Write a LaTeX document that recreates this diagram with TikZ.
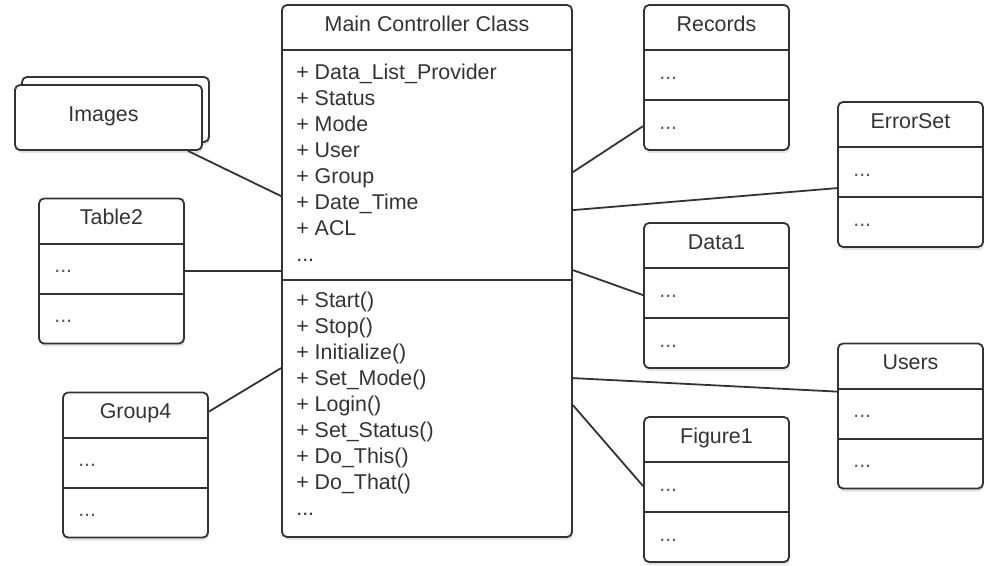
\documentclass[tikz,border=0pt]{standalone}
\usepackage{fontspec}
\setmainfont{Liberation Sans}
\usetikzlibrary{calc,shadows}
\definecolor{ink}{RGB}{51, 51, 51}
\definecolor{dotgray}{RGB}{90, 90, 90}
\tikzstyle{classbox} = [rectangle, draw=ink, line width=1.8pt, fill=white,
  rounded corners=5pt, minimum width=145pt, minimum height=145pt, inner sep=0pt,
  drop shadow={opacity=0.22, shadow xshift=1pt, shadow yshift=-3pt}]
\tikzstyle{stackbox} = [classbox, minimum width=187pt, minimum height=65pt]
\tikzstyle{divider} = [draw=ink, line width=1.8pt]
\tikzstyle{title} = [text=ink, font=\fontsize{21.4}{26}\selectfont,
  inner sep=0pt, anchor=base]
\tikzstyle{member} = [text=ink, font=\fontsize{21.4}{26}\selectfont,
  inner sep=0pt, anchor=north west, align=left]
\tikzstyle{entry} = [text=dotgray, font=\fontsize{21.4}{26}\selectfont,
  inner sep=0pt, anchor=base west]
\tikzstyle{line} = [draw=ink, line width=1.8pt]

\begin{document}
\begin{tikzpicture}[x=1pt, y=-1pt]

  \useasboundingbox (0,0) rectangle (990,565);

  %%%%%%%%%%%%%%%%%%%%%%%%%%%%%%%%%%%%%%%%%%%%%%%%%%%%%%%%%%%%%%
  %                    MAIN CONTROLLER CLASS                   %
  %%%%%%%%%%%%%%%%%%%%%%%%%%%%%%%%%%%%%%%%%%%%%%%%%%%%%%%%%%%%%%

  \node [classbox, minimum width=290pt, minimum height=532pt] (main) at (427,271) {};
  \node [title] (main-title) at ($(main.north)+(0,27)$) {Main Controller Class};
  \draw [divider] ($(main.north west)+(0,46)$) -- ($(main.north east)+(0,46)$)
                  ($(main.north west)+(0,276)$) -- ($(main.north east)+(0,276)$);
  \node [member] (main-attributes) at ($(main.north west)+(15,59.5)$) {
    + Data\_List\_Provider\\
    + Status\\
    + Mode\\
    + User\\
    + Group\\
    + Date\_Time\\
    + ACL\\
    ...
  };
  \node [member] (main-methods) at ($(main.north west)+(15,287.5)$) {
    + Start()\\
    + Stop()\\
    + Initialize()\\
    + Set\_Mode()\\
    + Login()\\
    + Set\_Status()\\
    + Do\_This()\\
    + Do\_That()\\
    ...
  };

  %%%%%%%%%%%%%%%%%%%%%%%%%%%%%%%%%%%%%%%%%%%%%%%%%%%%%%%%%%%%%%
  %                    LEFT SIDE                               %
  %%%%%%%%%%%%%%%%%%%%%%%%%%%%%%%%%%%%%%%%%%%%%%%%%%%%%%%%%%%%%%

  \node [stackbox] (images-back) at (115.5,109.5) {};
  \node [stackbox] (images) at (108.5,117.5) {};
  \node [title] (images-title) at ($(images.north)+(-5,37)$) {Images};

  \node [classbox] (table2) at (111.5,271) {};
  \node [title] (table2-title) at ($(table2.north)+(0,27)$) {Table2};
  \draw [divider] ($(table2.north west)+(0,46)$) -- ($(table2.north east)+(0,46)$)
                  ($(table2.north west)+(0,96)$) -- ($(table2.north east)+(0,96)$);
  \node [entry] (table2-a) at ($(table2.north west)+(16,75)$) {...};
  \node [entry] (table2-b) at ($(table2.north west)+(16,125)$) {...};

  \node [classbox] (group4) at (135.5,465) {};
  \node [title] (group4-title) at ($(group4.north)+(0,27)$) {Group4};
  \draw [divider] ($(group4.north west)+(0,46)$) -- ($(group4.north east)+(0,46)$)
                  ($(group4.north west)+(0,96)$) -- ($(group4.north east)+(0,96)$);
  \node [entry] (group4-a) at ($(group4.north west)+(16,75)$) {...};
  \node [entry] (group4-b) at ($(group4.north west)+(16,125)$) {...};

  %%%%%%%%%%%%%%%%%%%%%%%%%%%%%%%%%%%%%%%%%%%%%%%%%%%%%%%%%%%%%%
  %                    RIGHT SIDE                              %
  %%%%%%%%%%%%%%%%%%%%%%%%%%%%%%%%%%%%%%%%%%%%%%%%%%%%%%%%%%%%%%

  \node [classbox] (records) at (716.5,77.5) {};
  \node [title] (records-title) at ($(records.north)+(0,27)$) {Records};
  \draw [divider] ($(records.north west)+(0,46)$) -- ($(records.north east)+(0,46)$)
                  ($(records.north west)+(0,96)$) -- ($(records.north east)+(0,96)$);
  \node [entry] (records-a) at ($(records.north west)+(16,75)$) {...};
  \node [entry] (records-b) at ($(records.north west)+(16,125)$) {...};

  \node [classbox] (errorset) at (910.5,174.5) {};
  \node [title] (errorset-title) at ($(errorset.north)+(0,27)$) {ErrorSet};
  \draw [divider] ($(errorset.north west)+(0,46)$) -- ($(errorset.north east)+(0,46)$)
                  ($(errorset.north west)+(0,96)$) -- ($(errorset.north east)+(0,96)$);
  \node [entry] (errorset-a) at ($(errorset.north west)+(16,75)$) {...};
  \node [entry] (errorset-b) at ($(errorset.north west)+(16,125)$) {...};

  \node [classbox] (data1) at (716.5,295.5) {};
  \node [title] (data1-title) at ($(data1.north)+(0,27)$) {Data1};
  \draw [divider] ($(data1.north west)+(0,46)$) -- ($(data1.north east)+(0,46)$)
                  ($(data1.north west)+(0,96)$) -- ($(data1.north east)+(0,96)$);
  \node [entry] (data1-a) at ($(data1.north west)+(16,75)$) {...};
  \node [entry] (data1-b) at ($(data1.north west)+(16,125)$) {...};

  \node [classbox] (users) at (910.5,416) {};
  \node [title] (users-title) at ($(users.north)+(0,27)$) {Users};
  \draw [divider] ($(users.north west)+(0,46)$) -- ($(users.north east)+(0,46)$)
                  ($(users.north west)+(0,96)$) -- ($(users.north east)+(0,96)$);
  \node [entry] (users-a) at ($(users.north west)+(16,75)$) {...};
  \node [entry] (users-b) at ($(users.north west)+(16,125)$) {...};

  \node [classbox] (figure1) at (716.5,489.5) {};
  \node [title] (figure1-title) at ($(figure1.north)+(0,27)$) {Figure1};
  \draw [divider] ($(figure1.north west)+(0,46)$) -- ($(figure1.north east)+(0,46)$)
                  ($(figure1.north west)+(0,96)$) -- ($(figure1.north east)+(0,96)$);
  \node [entry] (figure1-a) at ($(figure1.north west)+(16,75)$) {...};
  \node [entry] (figure1-b) at ($(figure1.north west)+(16,125)$) {...};

  %%%%%%%%%%%%%%%%%%%%%%%%%%%%%%%%%%%%%%%%%%%%%%%%%%%%%%%%%%%%%%
  %                    ASSOCIATIONS                            %
  %%%%%%%%%%%%%%%%%%%%%%%%%%%%%%%%%%%%%%%%%%%%%%%%%%%%%%%%%%%%%%

  \draw [line] ($(images.south east)+(-15,0)$) -- ($(main.north west)+(0,192)$);
  \draw [line] (table2.east) -- (main.west |- table2.east);
  \draw [line] ($(group4.north east)+(0,20)$) -- ($(main.north west)+(0,364)$);
  \draw [line] ($(main.north east)+(0,168)$) -- ($(records.north west)+(0,122)$);
  \draw [line] ($(main.north east)+(0,206)$) -- ($(errorset.north west)+(0,87)$);
  \draw [line] ($(main.north east)+(0,266)$) -- ($(data1.north west)+(0,73)$);
  \draw [line] ($(main.north east)+(0,374)$) -- ($(users.north west)+(0,49)$);
  \draw [line] ($(main.north east)+(0,401)$) -- ($(figure1.north west)+(0,70)$);

\end{tikzpicture}
\end{document}
